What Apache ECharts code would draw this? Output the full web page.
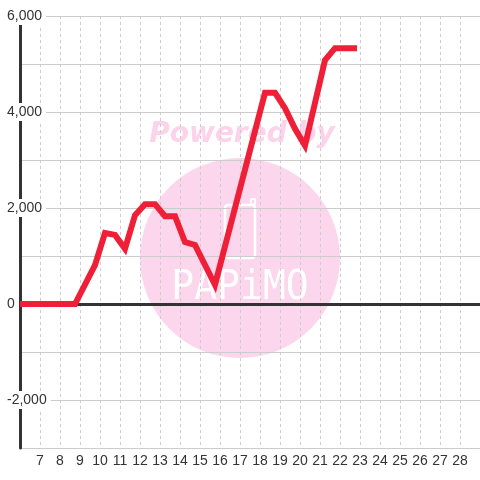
<!DOCTYPE html>
<html>
<head>
<meta charset="utf-8">
<script src="https://cdn.jsdelivr.net/npm/echarts@6/dist/echarts.min.js"></script>
<style>html,body{margin:0;padding:0;background:#fff;}#c{width:480px;height:480px;}</style>
</head>
<body>
<div id="c"></div>
<script>
// Data
var xValues = [6, 8.75, 9.75, 10.25, 10.75, 11.25, 11.75, 12.25, 12.75, 13.25, 13.75, 14.25, 14.75, 15.75, 18.25, 18.75, 19.25, 19.75, 20.25, 21.25, 21.75, 22.85];
var yValues = [0, 0, 810, 1480, 1440, 1150, 1850, 2080, 2080, 1830, 1830, 1290, 1230, 400, 4400, 4400, 4080, 3650, 3300, 5080, 5330, 5330];
var xTickLabels = ['7','8','9','10','11','12','13','14','15','16','17','18','19','20','21','22','23','24','25','26','27','28'];
var yTickLabels = { '-2000': '-2,000', '0': '0', '2000': '2,000', '4000': '4,000', '6000': '6,000' };
var baselineValue = 0;

var seriesData = xValues.map(function (x, i) { return [x, yValues[i]]; });

var chart = echarts.init(document.getElementById('c'), null, { renderer: 'canvas' });
chart.setOption({
  backgroundColor: '#ffffff',
  animation: false,
  grid: { left: 20, right: 0, top: 16, bottom: 32, containLabel: false, outerBoundsMode: 'none' },
  graphic: [
    { type: 'circle', z: -10, silent: true, shape: { cx: 240, cy: 258, r: 100 }, style: { fill: '#fcd6ec' } },
    { type: 'text', z: -10, silent: true, x: 242, y: 135,
      style: { text: 'Powered by', fill: '#fcd3ea', font: 'italic bold 28px "DejaVu Sans"', align: 'center', verticalAlign: 'middle' } },
    { type: 'rect', z: -9, silent: true, shape: { x: 225, y: 205, width: 30, height: 53, r: 3 },
      style: { fill: 'none', stroke: '#ffffff', lineWidth: 2.5 } },
    { type: 'rect', z: -9, silent: true, shape: { x: 251, y: 199, width: 4, height: 6, r: 1 },
      style: { fill: 'none', stroke: '#ffffff', lineWidth: 2 } },
    { type: 'text', z: -9, silent: true, x: 240, y: 289, scaleX: 0.95,
      style: { text: 'PAPiMO', fill: '#ffffff', font: '40px "DejaVu Sans Mono"', align: 'center', verticalAlign: 'middle' } }
  ],
  xAxis: {
    type: 'value', min: 6, max: 29, interval: 1,
    axisLine: { show: false, onZero: false },
    axisTick: { show: false },
    axisLabel: {
      color: '#333', fontSize: 14, fontFamily: 'Liberation Sans, Arial, sans-serif', margin: 6,
      formatter: function (v) { var s = String(v); return xTickLabels.indexOf(s) >= 0 ? s : ''; }
    },
    splitLine: { show: true, lineStyle: { color: '#cccccc', width: 1, type: [3, 3] } }
  },
  yAxis: {
    type: 'value', min: -3000, max: 6000, interval: 1000,
    axisLine: { show: true, onZero: false, lineStyle: { color: '#333333', width: 3 } },
    axisTick: { show: false },
    splitLine: { show: true, lineStyle: { color: '#cccccc', width: 1 } },
    axisLabel: {
      align: 'left', margin: 15,
      formatter: function (v) { var s = yTickLabels[String(v)]; return s ? '{a|' + s + '}' : ''; },
      rich: {
        a: { color: '#333', fontSize: 14, fontFamily: 'Liberation Sans, Arial, sans-serif', backgroundColor: '#ffffff', padding: [2, 4, 2, 2] }
      }
    }
  },
  series: [
    {
      type: 'line',
      data: [],
      z: 1,
      silent: true,
      markLine: {
        silent: true,
        symbol: 'none',
        label: { show: false },
        lineStyle: { color: '#333333', width: 3, type: 'solid' },
        data: [{ yAxis: baselineValue }]
      }
    },
    {
      type: 'line',
      data: seriesData,
      showSymbol: false,
      symbol: 'none',
      clip: false,
      z: 5,
      lineStyle: { color: '#ee1f36', width: 6, cap: 'butt', join: 'miter' }
    }
  ]
});
</script>
</body>
</html>
